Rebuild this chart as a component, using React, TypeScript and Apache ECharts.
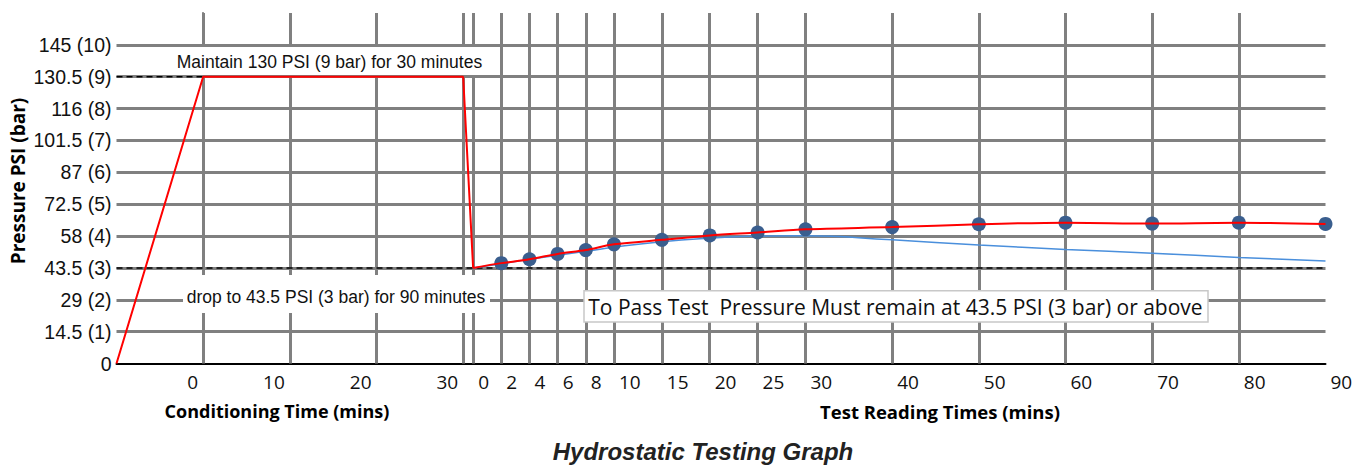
import React, { useEffect, useRef } from "react";
import * as echarts from "echarts";

// ---- Data ----
// Y axis ticks (bar) and their PSI equivalents
const barTicks = [0, 1, 2, 3, 4, 5, 6, 7, 8, 9, 10];
const psiTicks = [0, 14.5, 29, 43.5, 58, 72.5, 87, 101.5, 116, 130.5, 145];

// Conditioning phase (minutes) and tick labels
const condTicks = [0, 10, 20, 30];
const condMinutes = [-10, 0, 30];
const condPressure = [0, 9, 9]; // bar

// Test phase (minutes)
const testTicks = [0, 2, 4, 6, 8, 10, 15, 20, 25, 30, 40, 50, 60, 70, 80, 90];
const testGridTicks = [0, 2, 4, 6, 8, 10, 15, 20, 25, 30, 40, 50, 60, 70, 80];
const readingMinutes = [2, 4, 6, 8, 10, 15, 20, 25, 30, 40, 50, 60, 70, 80, 90];
const readingPressure = [3.15, 3.27, 3.44, 3.56, 3.74, 3.88, 4.02, 4.11, 4.21, 4.28, 4.37, 4.42, 4.39, 4.42, 4.38];
const testStartPressure = 3;
const trendMinutes = [0, 2, 4, 6, 8, 10, 15, 20, 25, 30, 40, 50, 60, 70, 80, 90];
const trendPressure = [3.0, 3.13, 3.27, 3.4, 3.52, 3.65, 3.82, 3.93, 4.0, 4.01, 3.88, 3.72, 3.58, 3.46, 3.33, 3.22];

const holdPressure = 9; // bar
const testPressure = 3; // bar

// ---- Non-linear x scale (axis position units) ----
const X_MIN = -10;
const X_MAX = 129.5;
const TEST_KNOTS: [number, number][] = [
  [0, 31.15],
  [10, 47.4],
  [30, 69.5],
  [90, 129.5],
];
const condX = (m: number) => m;
const testX = (m: number) => {
  for (let i = 0; i < TEST_KNOTS.length - 1; i++) {
    const [m0, p0] = TEST_KNOTS[i];
    const [m1, p1] = TEST_KNOTS[i + 1];
    if (m <= m1 || i === TEST_KNOTS.length - 2) {
      return p0 + ((m - m0) * (p1 - p0)) / (m1 - m0);
    }
  }
  return 0;
};

const findLabel = (positions: number[], labels: number[], v: number) => {
  const i = positions.findIndex((p) => Math.abs(p - v) < 1e-3);
  return i >= 0 ? String(labels[i]) : "";
};

const CALIBRI = "'Open Sans', sans-serif";
const ARIAL = "'Liberation Sans', Arial, sans-serif";

export default function App() {
  const ref = useRef<HTMLDivElement>(null);

  useEffect(() => {
    if (!ref.current) return;
    const chart = echarts.init(ref.current, undefined, { renderer: "svg" });

    const condPos = condTicks.map(condX);
    const testPos = testTicks.map(testX);

    const verticalGrid = [
      ...condTicks.map((t) => ({ xAxis: condX(t) })),
      ...testGridTicks.map((t) => ({ xAxis: testX(t) })),
    ];

    const condLine = condMinutes.map((m, i) => [condX(m), condPressure[i]]);
    condLine.push([testX(0), testStartPressure]);

    const redTest = [[testX(0), testStartPressure], ...readingMinutes.map((m, i) => [testX(m), readingPressure[i]])];
    const blueTrend = trendMinutes.map((m, i) => [testX(m), trendPressure[i]]);
    const dots = readingMinutes.map((m, i) => [testX(m), readingPressure[i]]);

    const Z = 50;
    const option: any = {
      animation: false,
      backgroundColor: "#ffffff",
      title: {
        text: "Hydrostatic Testing Graph",
        left: 698,
        top: 434,
        textAlign: "center",
        textStyle: {
          fontFamily: ARIAL,
          fontSize: 24,
          fontWeight: "bold",
          fontStyle: "italic",
          color: "#222",
        },
      },
      grid: { left: 116.5, right: 44.5, top: 13, bottom: 102.5, containLabel: false },
      xAxis: [
        {
          type: "value",
          min: X_MIN,
          max: X_MAX,
          position: "bottom",
          axisLine: { show: true, onZero: false, lineStyle: { color: "#000", width: 2 } },
          axisTick: { show: false },
          splitLine: { show: false },
          axisLabel: {
            customValues: condPos,
            formatter: (v: number) => findLabel(condPos, condTicks, v),
            align: "right",
            padding: [0, 5, 0, 0],
            margin: 9,
            fontFamily: CALIBRI,
            fontSize: 19,
            color: "#111",
          },
        },
        {
          type: "value",
          min: X_MIN,
          max: X_MAX,
          position: "bottom",
          axisLine: { show: false },
          axisTick: { show: false },
          splitLine: { show: false },
          axisLabel: {
            customValues: testPos,
            formatter: (v: number) => findLabel(testPos, testTicks, v),
            align: "left",
            padding: [0, 0, 0, 5],
            margin: 9,
            fontFamily: CALIBRI,
            fontSize: 19,
            color: "#111",
          },
        },
      ],
      yAxis: {
        type: "value",
        min: 0,
        max: 11,
        interval: 1,
        axisLine: { show: true, lineStyle: { color: "#000", width: 1.5 } },
        axisTick: { show: false },
        splitLine: {
          show: true,
          showMinLine: false,
          showMaxLine: false,
          lineStyle: { color: "#808080", width: 3 },
        },
        axisLabel: {
          margin: 5,
          fontFamily: ARIAL,
          fontSize: 19.5,
          color: "#111",
          formatter: (v: number) => {
            const i = barTicks.indexOf(v);
            if (i < 0) return "";
            return v === 0 ? "0" : `${psiTicks[i]} (${v})`;
          },
        },
      },
      graphic: {
        z: Z,
        elements: [
          {
            type: "rect",
            z: Z,
            shape: { x: 173, y: 47, width: 316, height: 28 },
            style: { fill: "#fff" },
          },
          {
            type: "text",
            z: Z + 1,
            x: 176.7,
            y: 61.7,
            style: {
              text: "Maintain 130 PSI (9 bar) for 30 minutes",
              font: `17.5px ${ARIAL}`,
              fill: "#111",
              textAlign: "left",
              textVerticalAlign: "middle",
            },
          },
          {
            type: "rect",
            z: Z,
            shape: { x: 183, y: 275, width: 307, height: 38 },
            style: { fill: "#fff" },
          },
          {
            type: "text",
            z: Z + 1,
            x: 186.7,
            y: 296.7,
            style: {
              text: "drop to 43.5 PSI (3 bar) for 90 minutes",
              font: `17.5px ${ARIAL}`,
              fill: "#111",
              textAlign: "left",
              textVerticalAlign: "middle",
            },
          },
          {
            type: "rect",
            z: Z,
            shape: { x: 584, y: 290.7, width: 624, height: 31.3 },
            style: { fill: "#fff", stroke: "#c8c8c8", lineWidth: 1.5 },
          },
          {
            type: "text",
            z: Z + 1,
            x: 588.3,
            y: 306.5,
            style: {
              text: "To Pass Test  Pressure Must remain at 43.5 PSI (3 bar) or above",
              font: `21px ${CALIBRI}`,
              fill: "#111",
              textAlign: "left",
              textVerticalAlign: "middle",
            },
          },
          {
            type: "text",
            z: Z + 1,
            x: 18,
            y: 181,
            rotation: Math.PI / 2,
            style: {
              text: "Pressure PSI (bar)",
              font: `bold 19px ${CALIBRI}`,
              fill: "#000",
              textAlign: "center",
              textVerticalAlign: "middle",
            },
          },
          {
            type: "text",
            z: Z + 1,
            x: 277,
            y: 411,
            style: {
              text: "Conditioning Time (mins)",
              font: `bold 18px ${CALIBRI}`,
              fill: "#000",
              textAlign: "center",
              textVerticalAlign: "middle",
            },
          },
          {
            type: "text",
            z: Z + 1,
            x: 940,
            y: 411,
            style: {
              text: "Test Reading Times (mins)",
              font: `bold 18.5px ${CALIBRI}`,
              fill: "#000",
              textAlign: "center",
              textVerticalAlign: "middle",
            },
          },
        ],
      },
      series: [
        {
          name: "grid",
          type: "line",
          z: 1,
          silent: true,
          symbol: "none",
          data: [[condX(0), 0]],
          lineStyle: { opacity: 0 },
          markLine: {
            silent: true,
            symbol: "none",
            label: { show: false },
            lineStyle: { color: "#808080", width: 3, type: "solid" },
            emphasis: { disabled: true },
            data: verticalGrid,
          },
        },
        {
          name: "hold",
          type: "line",
          z: 8,
          silent: true,
          symbol: "none",
          data: [
            [X_MIN, holdPressure],
            [condX(0), holdPressure],
          ],
          lineStyle: { color: "#000", width: 1.5, type: [6, 4] },
        },
        {
          name: "test level",
          type: "line",
          z: 8,
          silent: true,
          symbol: "none",
          data: [
            [X_MIN, testPressure],
            [X_MAX, testPressure],
          ],
          lineStyle: { color: "#000", width: 1.5, type: [6, 4] },
        },
        {
          name: "conditioning",
          type: "line",
          z: 10,
          symbol: "none",
          data: condLine,
          lineStyle: { color: "#ff0000", width: 2 },
        },
        {
          name: "trend",
          type: "line",
          z: 10,
          symbol: "none",
          smooth: true,
          data: blueTrend,
          lineStyle: { color: "#4a8fdc", width: 1.5 },
        },
        {
          name: "readings",
          type: "scatter",
          z: 11,
          symbol: "circle",
          symbolSize: 14,
          data: dots,
          itemStyle: { color: "#3a5e8e", opacity: 1 },
        },
        {
          name: "pressure",
          type: "line",
          z: 12,
          symbol: "none",
          smooth: 0.3,
          data: redTest,
          lineStyle: { color: "#ff0000", width: 2 },
        },
      ],
    };

    chart.setOption(option);
    return () => chart.dispose();
  }, []);

  return (
    <div
      ref={ref}
      style={{ position: "fixed", left: 0, top: 0, width: 1370, height: 466, background: "#fff" }}
    />
  );
}
